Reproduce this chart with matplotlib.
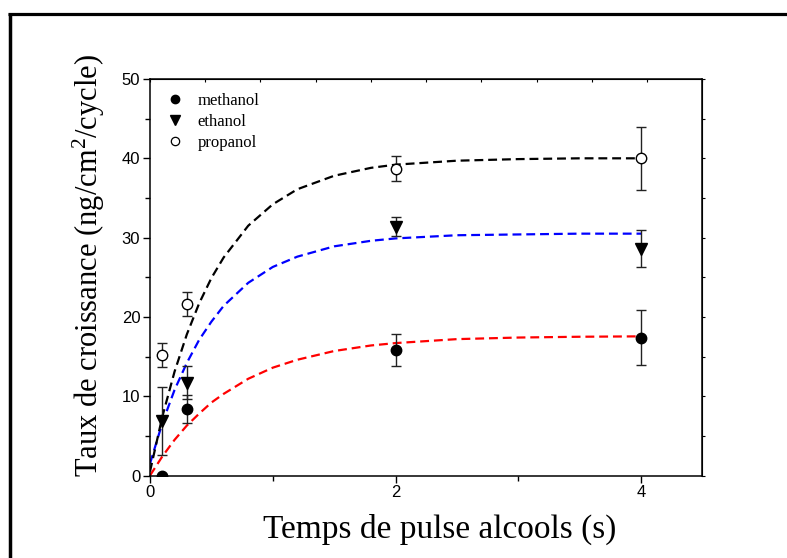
import numpy as np
import matplotlib
matplotlib.use('Agg')
import matplotlib.pyplot as plt
from matplotlib.lines import Line2D

plt.rcParams['mathtext.fontset'] = 'custom'
plt.rcParams['mathtext.rm'] = 'Liberation Serif'
plt.rcParams['mathtext.it'] = 'Liberation Serif:italic'

# measured points
x_meth = [0.1, 0.3, 2, 4]
y_meth = [0.0, 8.4, 15.8, 17.4]
e_meth = [0.0, 1.8, 2.0, 3.5]

x_eth = [0.1, 0.3, 2, 4]
y_eth = [6.9, 11.7, 31.4, 28.6]
e_eth = [4.3, 2.1, 1.2, 2.3]

x_prop = [0.1, 0.3, 2, 4]
y_prop = [15.2, 21.6, 38.7, 40.0]
e_prop = [1.55, 1.5, 1.55, 4.0]

# fitted curves
x_fit = [0, 0.1, 0.2, 0.3, 0.4, 0.5, 0.6, 0.8, 1.0, 1.2, 1.5, 1.8, 2.0, 2.5, 3.0, 3.5, 4.0]
fit_meth = [0, 2.4, 4.5, 6.3, 7.8, 9.2, 10.3, 12.2, 13.6, 14.6, 15.7, 16.4, 16.7, 17.2, 17.4, 17.5, 17.55]
fit_eth = [1.5, 6.6, 10.8, 14.2, 17.1, 19.4, 21.4, 24.3, 26.3, 27.6, 28.9, 29.6, 29.9, 30.3, 30.4, 30.5, 30.5]
fit_prop = [0.5, 7.4, 13.1, 17.8, 21.7, 24.9, 27.5, 31.5, 34.2, 36.1, 37.8, 38.8, 39.2, 39.7, 39.9, 40.0, 40.0]

serif = ['Liberation Serif', 'DejaVu Serif']
sans = ['Liberation Sans', 'DejaVu Sans']

fig = plt.figure(figsize=(7.87, 5.58), dpi=100)
ax = fig.add_axes([0.1906, 0.1478, 0.7020, 0.7106])

dash = (4, 2.2)
ax.plot(x_fit, fit_meth, color='red', lw=1.6, dashes=dash, zorder=2)
ax.plot(x_fit, fit_eth, color='blue', lw=1.6, dashes=dash, zorder=2)
ax.plot(x_fit, fit_prop, color='black', lw=1.6, dashes=dash, zorder=2)

ebkw = dict(ls='none', ecolor='#222222', elinewidth=1, capsize=3.6, capthick=1, zorder=3)
ax.errorbar(x_meth, y_meth, yerr=e_meth, marker='o', ms=7.5, mfc='black', mec='black', **ebkw)
ax.errorbar(x_eth, y_eth, yerr=e_eth, marker='v', ms=8, mfc='black', mec='black', **ebkw)
ax.errorbar(x_prop, y_prop, yerr=e_prop, marker='o', ms=7.5, mfc='white', mec='black',
            mew=1, **ebkw)

ax.set_xlim(0, 4.5)
ax.set_ylim(0, 50)
ax.set_xticks([0, 2, 4])
ax.set_xticks([1, 3], minor=True)
ax.set_yticks(range(0, 51, 10))
ax.set_yticks(range(5, 50, 10), minor=True)
ax.tick_params(which='major', length=5, width=1, direction='out', labelsize=12, pad=2,
               top=False, right=False)
ax.tick_params(which='minor', length=3.5, width=1, direction='out', top=False, right=False)
for lab in ax.get_xticklabels() + ax.get_yticklabels():
    lab.set_family(sans)
for s in ax.spines.values():
    s.set_linewidth(1.1)

# top and right decorative ticks
top = ax.secondary_xaxis('top')
top.set_xticks(np.linspace(0, 4.5, 11))
top.set_xticklabels([])
top.tick_params(direction='in', length=2, width=0.8)
right = ax.secondary_yaxis('right')
right.set_yticks(range(0, 51, 5))
right.set_yticklabels([])
right.tick_params(direction='out', length=2, width=0.8)

ax.set_xlabel('Temps de pulse alcools (s)', family=serif, fontsize=24)
ax.xaxis.set_label_coords(0.524, -0.158)
ax.xaxis.label.set_verticalalignment('baseline')
ax.set_ylabel('Taux de croissance (ng/cm$^2$/cycle)', family=serif, fontsize=22)
ax.yaxis.set_label_coords(-0.111, 0.53)
ax.yaxis.label.set_verticalalignment('center')

handles = [
    Line2D([], [], ls='none', marker='o', ms=6, mfc='black', mec='black'),
    Line2D([], [], ls='none', marker='v', ms=6.5, mfc='black', mec='black'),
    Line2D([], [], ls='none', marker='o', ms=6, mfc='white', mec='black', mew=0.9),
]
ax.legend(handles, ['methanol', 'ethanol', 'propanol'], loc='upper left', frameon=False,
          prop={'family': serif, 'size': 12}, handletextpad=0.7, labelspacing=0.3,
          borderaxespad=0.45, handlelength=1.3, borderpad=0.4)

# outer frame of the original figure
fig.add_artist(Line2D([8 / 787, 1], [1 - 14 / 558, 1 - 14 / 558], transform=fig.transFigure,
                      color='black', lw=2.3, solid_capstyle='butt'))
fig.add_artist(Line2D([10 / 787, 10 / 787], [0, 1 - 13 / 558], transform=fig.transFigure,
                      color='black', lw=2.5, solid_capstyle='butt'))

fig.savefig('out.png', dpi=100)
